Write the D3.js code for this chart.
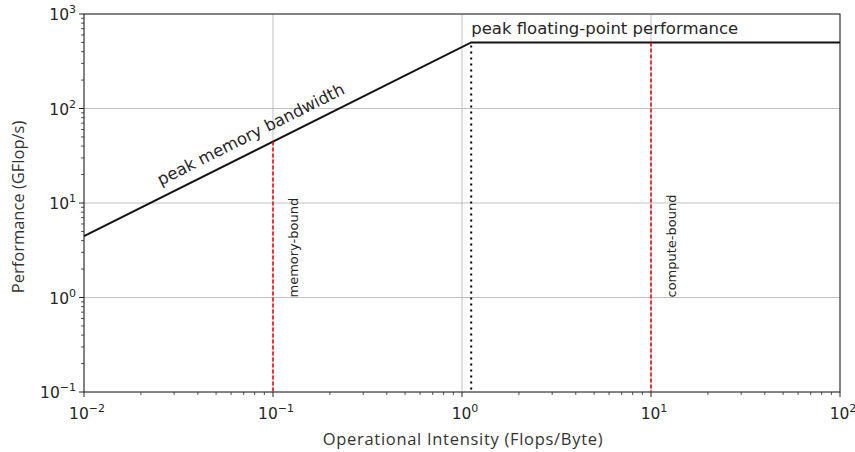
<!DOCTYPE html>
<html lang="en">
<head>
<meta charset="UTF-8">
<title>Roofline model</title>
<script src="https://d3js.org/d3.v7.min.js"></script>
<style>
  body { margin: 0; background: #fff; }
  text { font-family: "DejaVu Sans", sans-serif; fill: #262626; }
  .title { font-family: "Open Sans", sans-serif; fill: #333; }
  .grid line { stroke: #b0b0b0; stroke-width: 0.8px; }
</style>
</head>
<body>
<div id="chart"></div>
<script>
// data
const xDecades = [-2, -1, 0, 1, 2];
const yDecades = [-1, 0, 1, 2, 3];
const peakFlops = 500;        // GFlop/s
const peakBandwidth = 447;    // GB/s
const xDomain = [0.01, 100];
const yDomain = [0.1, 1000];
const markers = [
  { x: 0.1, label: "memory-bound" },
  { x: 10, label: "compute-bound" }
];

const W = 855, H = 452;
const margin = { top: 14, right: 15, bottom: 60, left: 84 };
const width = W - margin.left - margin.right;
const height = H - margin.top - margin.bottom;

const svg = d3.select("#chart").append("svg")
  .attr("width", W).attr("height", H);
const g = svg.append("g").attr("transform", `translate(${margin.left},${margin.top})`);

const x = d3.scaleLog().domain(xDomain).range([0, width]);
const y = d3.scaleLog().domain(yDomain).range([height, 0]);

const roof = v => Math.min(peakFlops, peakBandwidth * v);
const ridge = peakFlops / peakBandwidth;

// grid
g.append("g").attr("class", "grid")
  .selectAll("line").data(xDecades).join("line")
  .attr("x1", d => x(10 ** d)).attr("x2", d => x(10 ** d))
  .attr("y1", 0).attr("y2", height);
g.append("g").attr("class", "grid")
  .selectAll("line").data(yDecades).join("line")
  .attr("y1", d => y(10 ** d)).attr("y2", d => y(10 ** d))
  .attr("x1", 0).attr("x2", width);

// minor ticks
function minors(dom) {
  const out = [];
  for (let e = Math.log10(dom[0]); e < Math.log10(dom[1]); e++)
    for (let k = 2; k <= 9; k++) out.push(k * 10 ** e);
  return out;
}
g.append("g").selectAll("line").data(minors(xDomain)).join("line")
  .attr("x1", d => x(d)).attr("x2", d => x(d))
  .attr("y1", height).attr("y2", height + 3)
  .attr("stroke", "#262626").attr("stroke-width", 0.8);
g.append("g").selectAll("line").data(minors(yDomain)).join("line")
  .attr("y1", d => y(d)).attr("y2", d => y(d))
  .attr("x1", 0).attr("x2", -3)
  .attr("stroke", "#262626").attr("stroke-width", 0.8);

// major ticks + labels with superscripts
function supLabel(sel) {
  sel.each(function(d) {
    const t = d3.select(this).text(null);
    t.append("tspan").text("10");
    t.append("tspan").attr("dy", -7).attr("font-size", 11)
      .text(d < 0 ? "\u2212" + Math.abs(d) : d);
  });
}
const xt = g.append("g").attr("transform", `translate(0,${height})`);
xt.selectAll("line").data(xDecades).join("line")
  .attr("x1", d => x(10 ** d)).attr("x2", d => x(10 ** d))
  .attr("y1", 0).attr("y2", 5).attr("stroke", "#262626").attr("stroke-width", 1);
xt.selectAll("text").data(xDecades).join("text")
  .attr("x", d => x(10 ** d) + 3).attr("y", 27)
  .attr("text-anchor", "middle").attr("font-size", 15.5)
  .call(supLabel);

const yt = g.append("g");
yt.selectAll("line").data(yDecades).join("line")
  .attr("y1", d => y(10 ** d)).attr("y2", d => y(10 ** d))
  .attr("x1", 0).attr("x2", -5).attr("stroke", "#262626").attr("stroke-width", 1);
yt.selectAll("text").data(yDecades).join("text")
  .attr("x", -8).attr("y", d => y(10 ** d) + 6)
  .attr("text-anchor", "end").attr("font-size", 15.5)
  .call(supLabel);

// frame
g.append("rect").attr("width", width).attr("height", height)
  .attr("fill", "none").attr("stroke", "#262626").attr("stroke-width", 1);

// roofline
const pts = [xDomain[0], ridge, xDomain[1]].map(v => [v, roof(v)]);
g.append("path").datum(pts)
  .attr("d", d3.line().x(d => x(d[0])).y(d => y(d[1])))
  .attr("fill", "none").attr("stroke", "#111").attr("stroke-width", 2);

// ridge point dotted line
g.append("line")
  .attr("x1", x(ridge)).attr("x2", x(ridge))
  .attr("y1", y(peakFlops) + 3).attr("y2", height)
  .attr("stroke", "#000").attr("stroke-width", 2)
  .attr("stroke-dasharray", "2,4");

// red markers
markers.forEach(m => {
  g.append("line")
    .attr("x1", x(m.x)).attr("x2", x(m.x))
    .attr("y1", y(roof(m.x))).attr("y2", height)
    .attr("stroke", "#e8000b").attr("stroke-width", 1.5)
    .attr("stroke-dasharray", "4,2");
  g.append("text")
    .attr("transform", `translate(${x(m.x) + 25},${y(1)}) rotate(-90)`)
    .attr("font-size", 13).attr("fill", "#111")
    .text(m.label);
});

// annotations
g.append("text")
  .attr("x", x(ridge)).attr("y", y(peakFlops) - 8)
  .attr("font-size", 16.5).text("peak floating-point performance");

const ang = Math.atan2(y(1) - y(10), x(10) - x(1)) * 180 / Math.PI;
const lx = x(0.0255), ly = y(peakBandwidth * 0.0255) - 12;
g.append("text")
  .attr("transform", `translate(${lx},${ly}) rotate(${-ang})`)
  .attr("font-size", 16.5).text("peak memory bandwidth");

// axis titles
svg.append("text").attr("class", "title")
  .attr("x", margin.left + width / 2 + 1).attr("y", 445)
  .attr("text-anchor", "middle").attr("font-size", 16.5)
  .attr("letter-spacing", 0.7)
  .text("Operational Intensity (Flops/Byte)");
svg.append("text").attr("class", "title")
  .attr("transform", `translate(24,${margin.top + height / 2 + 4}) rotate(-90)`)
  .attr("text-anchor", "middle").attr("font-size", 16.5)
  .text("Performance (GFlop/s)");
</script>
</body>
</html>
